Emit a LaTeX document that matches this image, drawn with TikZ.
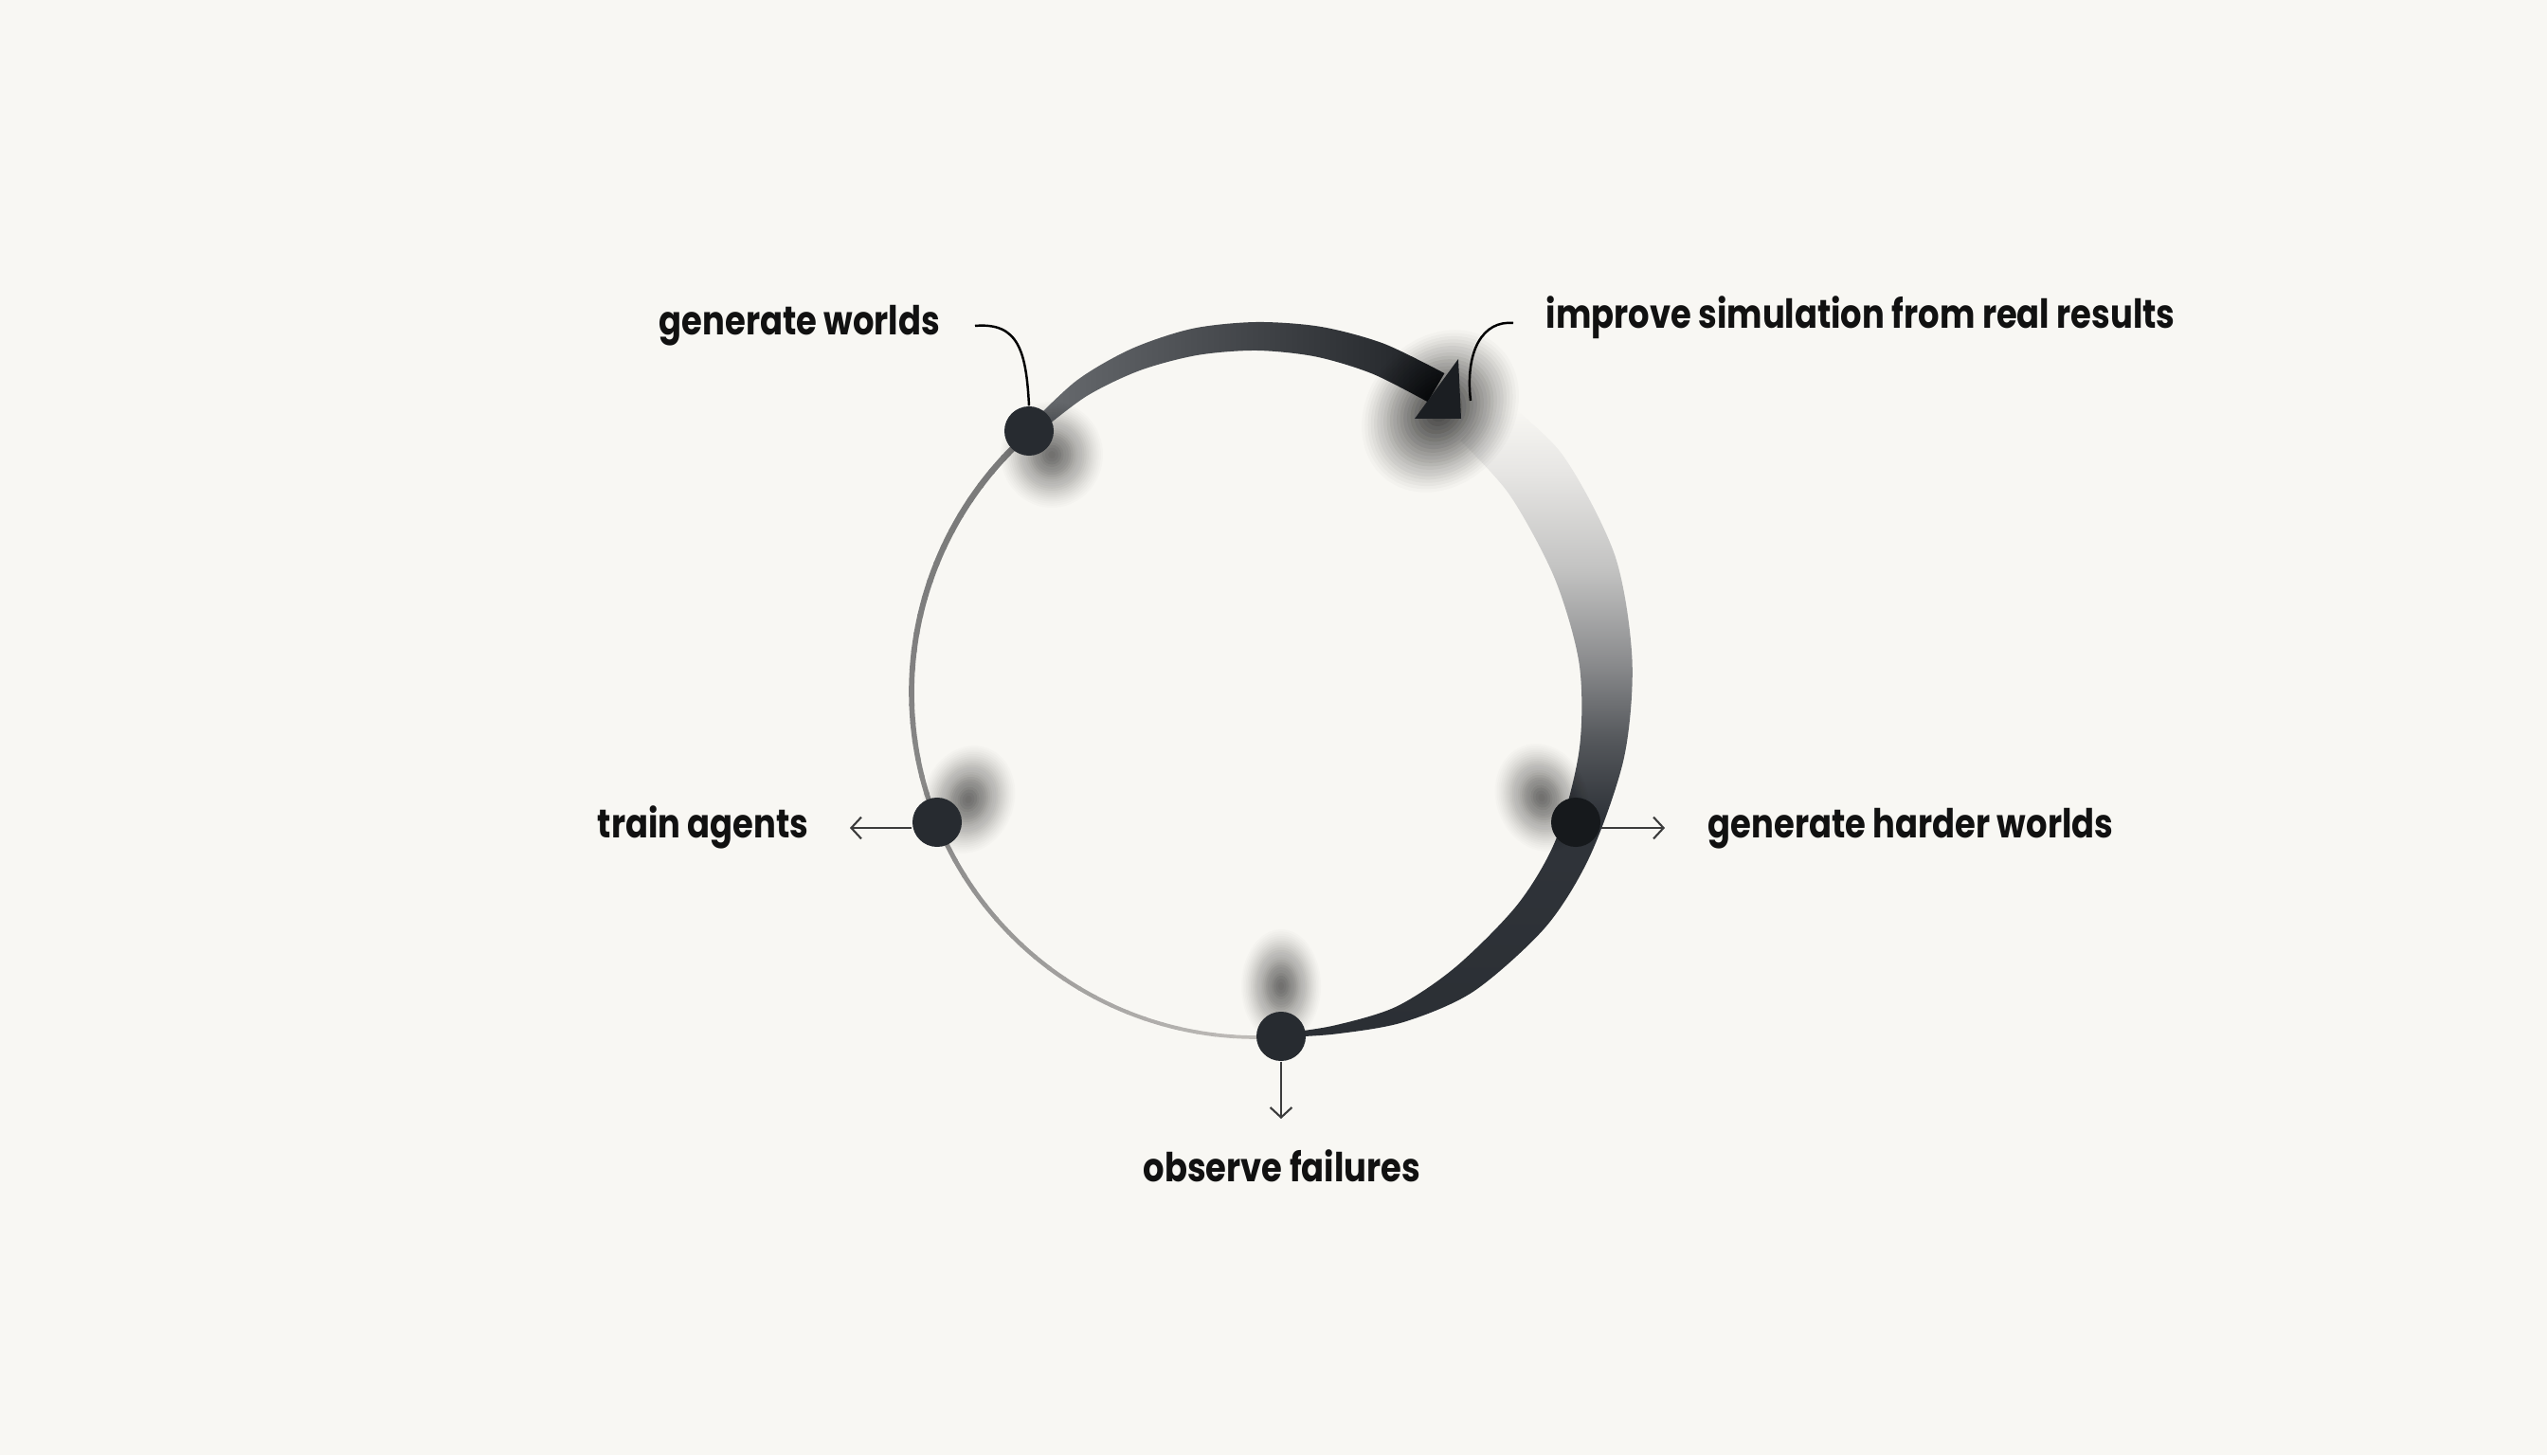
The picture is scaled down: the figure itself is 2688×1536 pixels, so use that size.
\documentclass[tikz,border=0pt]{standalone}
\usepackage{fontspec}
\newfontfamily\lbl{Poppins Bold}[FakeStretch=0.837]
\usetikzlibrary{arrows.meta}
\definecolor{bg}{HTML}{F8F7F3}
\definecolor{ink}{HTML}{111111}
\definecolor{dotc}{HTML}{272B30}
\definecolor{dotd}{HTML}{16191C}
\definecolor{ringA}{HTML}{7A7A7A}
\definecolor{ringB}{HTML}{C6C3BF}
\definecolor{bandL}{HTML}{6A6D71}
\definecolor{bandR}{HTML}{1F2226}
\definecolor{headc}{HTML}{1B1E22}
\definecolor{arrowc}{HTML}{3C3C3C}
\definecolor{rbA}{HTML}{F8F7F3}
\definecolor{rbB}{HTML}{E6E5E3}
\definecolor{rbC}{HTML}{C3C3C2}
\definecolor{rbD}{HTML}{8A8B8D}
\definecolor{rbE}{HTML}{55585C}
\definecolor{rbF}{HTML}{30343A}
\definecolor{rbG}{HTML}{2A2E33}
\pgfdeclareverticalshading{rband}{100bp}{color(0bp)=(rbG); color(25bp)=(rbG); color(44.17bp)=(rbF); color(49.72bp)=(rbE); color(55.28bp)=(rbD); color(62.22bp)=(rbC); color(69.17bp)=(rbB); color(74bp)=(rbA); color(100bp)=(rbA)}
% soft shadow: stack of translucent ellipses, lighter towards the rim
\newcommand{\softsh}[6]{%
  \foreach \k in {1,...,22} {%
    \pgfmathsetmacro\s{(\k/22)^0.85}%
    \pgfmathsetmacro\o{#6*(1-0.75*\s)}%
    \fill[black,opacity=\o,rotate around={#5:(#1,#2)}] (#1,#2) ellipse ({#3*\s} and {#4*\s});%
  }}
\begin{document}
\begin{tikzpicture}[x=0.01cm,y=0.01cm,
  dot/.style={circle,fill=dotc,minimum size=0.52cm,inner sep=0pt},
  lab/.style={inner sep=0pt,text=ink,font=\lbl\fontsize{12}{14}\selectfont},
  callout/.style={draw=black,line width=0.7pt},
  outarrow/.style={draw=arrowc,line width=0.6pt,-{Straight Barb[length=3pt,width=6.5pt]}}]
\fill[bg] (0,0) rectangle (2688,1536);
\useasboundingbox (0,0) rectangle (2688,1536);

\begin{scope}[shift={(1326,805)}]
  % thin ring (left half)
  \foreach \a in {131,134,...,272} {
    \pgfmathsetmacro\t{100*((\a-131)/143)^2}
    \pgfmathsetmacro\w{1.9-0.9*(\a-131)/143}
    \draw[color=ringB!\t!ringA, line width=\w pt, line cap=round]
      (\a:364) arc[start angle=\a, end angle=\a+3.2, radius=364];
  }
  % right fading band
  \def\rbpath{plot[smooth] coordinates {(51:404) (38:409) (21:405) (5:398) (-10:394) (-26:392) (-39:393) (-54:390) (-66:381) (-77:370) (-86:365)} -- plot[smooth] coordinates {(-86:361) (-77:361) (-66:363) (-54:358) (-39:355) (-26:352) (-10:346) (5:342) (21:337) (38:339) (51:342)} -- cycle}
  \begin{scope}
    \clip \rbpath;
    \shade[shading=rband] (-26,-405) rectangle (480,315);
  \end{scope}
  % top band
  \shade[left color=bandL, right color=bandR]
    plot[smooth] coordinates {(131:370) (120:380) (110:386) (100:390) (90:391) (80:392) (70:392) (59.5:391)}
    -- plot[smooth] coordinates {(59.5:356) (70:358) (80:360) (90:361) (100:361.5) (110:361.5) (120:360.5) (131:358)} -- cycle;
\end{scope}

% soft shadows
\softsh{1110}{1056}{54}{56}{0}{0.055}
\softsh{1022}{692}{48}{58}{-20}{0.055}
\softsh{1352}{495}{42}{60}{0}{0.055}
\softsh{1627}{694}{48}{58}{20}{0.055}
\softsh{1520}{1102}{92}{76}{50}{0.085}

% arrowhead
\fill[headc] (1539,1157) -- (1542,1094) -- (1493,1094) -- cycle;

% dots
\node[dot] (gw) at (1086,1081) {};
\node[dot] (ta) at (989,668) {};
\node[dot] (of) at (1352,442) {};
\node[dot,fill=dotd] (gh) at (1663,668) {};

% connector ends
\coordinate (gwc) at (1029,1192);
\coordinate (impc) at (1597,1195);
\coordinate (impe) at (1552,1113);
\coordinate (tae) at (897,662);
\coordinate (ghe) at (1757,662);
\coordinate (ofe) at (1352,355);

\draw[callout] (gwc) .. controls (1075,1196) and (1083,1165) .. (gw.north);
\draw[callout] (impc) .. controls (1565,1198) and (1546,1166) .. (impe);
\draw[outarrow] (ta.west |- tae) -- (tae);
\draw[outarrow] (gh.east |- ghe) -- (ghe);
\draw[outarrow] (of) -- (ofe);

% labels
\node[lab,anchor=base west] (lgw) at (695,1182) {generate worlds};
\node[lab,anchor=base west] (limp) at (1631,1189) {improve simulation from real results};
\node[lab,anchor=base west] (lta) at (630,651) {train agents};
\node[lab,anchor=base west] (lgh) at (1802,651) {generate harder worlds};
\node[lab,anchor=base west] (lof) at (1206,289) {observe failures};
\end{tikzpicture}
\end{document}
